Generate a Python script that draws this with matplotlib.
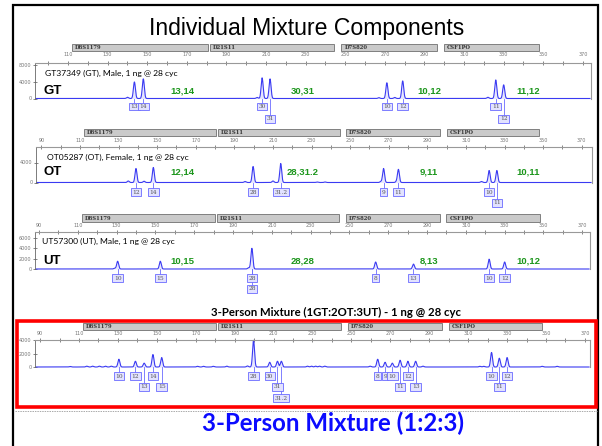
import numpy as np
import matplotlib.pyplot as plt
from matplotlib.patches import Rectangle
import matplotlib.transforms as mtransforms

W, H = 602, 446

# loci and size scale (bp)
loci = ['D8S1179', 'D21S11', 'D7S820', 'CSF1PO']
locus_start = [112, 181.5, 248, 300]
locus_end = [180.5, 244.5, 296.5, 348]
size_ticks = [90, 110, 130, 150, 170, 190, 210, 230, 250, 270, 290, 310, 330, 350, 370]
minor_ticks = [100, 120, 140, 160, 180, 200, 220, 240, 260, 280, 300, 320, 340, 360]

# GT sample
gt_peak_sizes = [143.5, 148, 208, 212, 271, 279, 326, 330]
gt_peak_heights = [4000, 4750, 5000, 4750, 3800, 4250, 4500, 3300]
gt_minor_sizes = [140, 205.5, 267, 275, 322]
gt_minor_heights = [300, 250, 200, 250, 300]
gt_labels = ['13', '14', '30', '31', '10', '12', '11', '12']
gt_label_sizes = [143.5, 148, 208, 212, 271, 279, 326, 330]
gt_label_rows = [0, 0, 0, 1, 0, 0, 0, 1]
gt_calls = ['13,14', '30,31', '10,12', '11,12']

# OT sample
ot_peak_sizes = [139, 148, 199.7, 214, 267.3, 275, 322, 326]
ot_peak_heights = [2800, 3000, 3200, 3800, 2800, 2600, 2400, 2400]
ot_minor_sizes = [135, 143.2, 195.5, 210, 232.8, 237, 265.9, 274, 318]
ot_minor_heights = [300, 250, 200, 300, 100, 100, 200, 200, 200]
ot_labels = ['12', '14', '28', '31.2', '9', '11', '10', '11']
ot_label_sizes = [139, 148, 199.7, 214, 267.3, 275, 322, 326]
ot_label_rows = [0, 0, 0, 0, 0, 0, 0, 1]
ot_calls = ['12,14', '28,31.2', '9,11', '10,11']

# UT sample
ut_peak_sizes = [130.5, 152.5, 199.7, 263.5, 283, 322, 330]
ut_peak_heights = [1500, 1500, 4000, 1350, 950, 1900, 1350]
ut_minor_sizes = [129, 198]
ut_minor_heights = [150, 250]
ut_labels = ['10', '15', '28', '28', '8', '13', '10', '12']
ut_label_sizes = [130.5, 152.5, 199.7, 199.7, 263.5, 283, 322, 330]
ut_label_rows = [0, 0, 0, 1, 0, 0, 0, 0]
ut_calls = ['10,15', '28,28', '8,13', '10,12']

# 3-person mixture
mix_peak_sizes = [130.5, 139, 143.5, 148, 152.5, 199.7, 208, 212, 214,
                  263.5, 267.3, 271, 275, 279, 283, 322, 326, 330]
mix_peak_heights = [1150, 850, 570, 1850, 1400, 3950, 700, 850, 850,
                    1150, 700, 570, 1000, 850, 850, 2150, 1300, 1400]
mix_minor_sizes = [105.4, 114, 117, 120.5, 123.6, 126.6, 170.9, 174, 179, 186,
                   196.6, 227.4, 229.5, 231.6, 233.6, 236.3, 259.6, 286.8,
                   316, 318, 348, 355.7]
mix_minor_heights = [80, 120, 120, 120, 120, 120, 100, 100, 100, 120,
                     150, 120, 120, 120, 120, 120, 120, 120,
                     100, 100, 100, 100]
mix_labels = ['10', '12', '13', '14', '15', '28', '30', '31', '31.2',
              '8', '9', '10', '11', '12', '13', '10', '11', '12']
mix_label_sizes = mix_peak_sizes
mix_label_rows = [0, 0, 1, 0, 1, 0, 0, 1, 2, 0, 0, 0, 1, 0, 1, 0, 1, 0]

trace_color = '#3a3af2'
box_fc = '#e2e2ff'
box_ec = '#6b6bff'
green = '#1c961c'


def fx(px):
    return px / W


def fy(py):
    return 1 - py / H


fig = plt.figure(figsize=(W / 100, H / 100), dpi=100)


def draw_panel(cfg, peak_sizes, peak_heights, minor_sizes, minor_heights,
               labels, label_sizes, label_rows):
    left, right, top, base = cfg['box']
    ax = fig.add_axes([fx(left), fy(base), (right - left) / W, (base - top) / H])
    lo, hi = cfg['xlim']
    ax.set_xlim(lo, hi)
    ax.set_ylim(0, cfg['ymax'])
    ax.patch.set_alpha(0)

    x = np.linspace(lo + 0.5, hi - 0.5, 5000)
    y = np.zeros_like(x)
    for s, h in zip(peak_sizes + minor_sizes, peak_heights + minor_heights):
        y += h * np.exp(-0.5 * ((x - s) / 0.5) ** 2)
    ax.fill_between(x, 0, y, color=trace_color, alpha=0.12, lw=0)
    ax.plot(x, y, color=trace_color, lw=0.8, clip_on=False)

    for side in ['top', 'right']:
        ax.spines[side].set_color('#999999')
        ax.spines[side].set_linewidth(0.8)
    ax.spines['left'].set_color('#666666')
    ax.spines['left'].set_linewidth(0.6)
    ax.spines['bottom'].set_visible(False)

    ax.xaxis.tick_top()
    ax.set_xticks([t for t in size_ticks if lo <= t <= hi])
    ax.set_xticks([t for t in minor_ticks if lo <= t <= hi], minor=True)
    ax.tick_params(axis='x', which='both', direction='inout', length=3,
                   width=0.5, color='#555555', labelsize=3.5,
                   labelcolor='#777777', pad=cfg['pad'])
    ax.set_yticks(cfg['yticks'])
    ax.tick_params(axis='y', direction='inout', length=3, width=0.5,
                   color='#555555', labelsize=3.5, labelcolor='#777777', pad=1)

    trans = mtransforms.blended_transform_factory(ax.transData, fig.transFigure)
    b0, b1 = cfg['bar']
    for name, s, e in zip(loci, locus_start, locus_end):
        ax.add_patch(Rectangle((s, fy(b1)), e - s, (b1 - b0) / H, transform=trans,
                               fc='#cacaca', ec='#707070', lw=0.6, clip_on=False))
        ax.text(s + 1.5, fy((b0 + b1) / 2), name, transform=trans, fontsize=3.8,
                fontweight='bold', family='DejaVu Serif', color='#333333',
                va='center', ha='left')

    for txt, s, r in zip(labels, label_sizes, label_rows):
        ry = cfg['rows'][r]
        ax.plot([s, s], [fy(base), fy(ry - 3.5)], transform=trans,
                color=box_ec, lw=0.6, clip_on=False)
        ax.text(s, fy(ry), txt, transform=trans, ha='center', va='center',
                fontsize=4.2, color='#555555', family='DejaVu Serif',
                bbox=dict(boxstyle='square,pad=0.25', fc=box_fc, ec=box_ec, lw=0.6))
    return ax


panels = [
    dict(box=(35, 591, 63, 98.5), xlim=(93.3, 374.1), ymax=8600,
         yticks=[0, 4000, 8000], pad=2.5, bar=(44, 51), rows=[106.5, 119]),
    dict(box=(36, 592, 146.5, 182.5), xlim=(87.2, 375.3), ymax=7200,
         yticks=[0, 4000], pad=1.2, bar=(129, 136), rows=[192, 203]),
    dict(box=(35, 590, 232, 269), xlim=(87.9, 374), ymax=7150,
         yticks=[0, 2000, 4000, 6000], pad=1.2, bar=(214, 222), rows=[278, 289]),
    dict(box=(35, 590, 340, 367), xlim=(87.4, 372.6), ymax=4000,
         yticks=[0, 2000, 4000], pad=1.2, bar=(323, 330), rows=[376, 387, 398]),
]

draw_panel(panels[0], gt_peak_sizes, gt_peak_heights, gt_minor_sizes, gt_minor_heights,
           gt_labels, gt_label_sizes, gt_label_rows)
draw_panel(panels[1], ot_peak_sizes, ot_peak_heights, ot_minor_sizes, ot_minor_heights,
           ot_labels, ot_label_sizes, ot_label_rows)
draw_panel(panels[2], ut_peak_sizes, ut_peak_heights, ut_minor_sizes, ut_minor_heights,
           ut_labels, ut_label_sizes, ut_label_rows)
draw_panel(panels[3], mix_peak_sizes, mix_peak_heights, mix_minor_sizes, mix_minor_heights,
           mix_labels, mix_label_sizes, mix_label_rows)

# sample annotations
sans = ['Lato', 'DejaVu Sans']
call_x = [182, 303, 429, 528]
for sample, sx, sy, tag, tx, ty, calls in [
        ('GT37349 (GT), Male, 1 ng @ 28 cyc', 45, 73, 'GT', 43, 91, gt_calls),
        ('OT05287 (OT), Female, 1 ng @ 28 cyc', 47, 157, 'OT', 43, 172, ot_calls),
        ('UT57300 (UT), Male, 1 ng @ 28 cyc', 42, 241, 'UT', 43, 261, ut_calls)]:
    fig.text(fx(sx), fy(sy), sample, fontsize=6.1, family=sans, va='center', ha='left')
    fig.text(fx(tx), fy(ty), tag, fontsize=9.5, fontweight='bold',
             family='Liberation Sans', va='center', ha='left')
    for c, cx in zip(calls, call_x):
        fig.text(fx(cx), fy(ty), c, fontsize=6.8, fontweight='bold', color=green,
                 family='Liberation Sans', va='center', ha='center')

fig.text(fx(307), fy(29), 'Individual Mixture Components', fontsize=16.6,
         family='Liberation Sans', ha='center', va='center')
fig.text(fx(336), fy(312), '3-Person Mixture (1GT:2OT:3UT) - 1 ng @ 28 cyc',
         fontsize=8.2, fontweight='bold', family=sans, ha='center', va='center')
fig.text(fx(333), fy(423), '3-Person Mixture (1:2:3)', fontsize=17.3,
         fontweight='bold', color='#0b0bff', family=sans, ha='center', va='center')

# slide frame, red highlight box and dotted separator
fig.add_artist(Rectangle((fx(13), fy(460)), fx(598 - 13), (460 - 5) / H,
                         transform=fig.transFigure, fill=False, ec='black', lw=1.6))
fig.add_artist(Rectangle((fx(16.5), fy(406.5)), fx(595.5 - 16.5), (406.5 - 320.5) / H,
                         transform=fig.transFigure, fill=False, ec='#ff0000', lw=2.6))
fig.add_artist(plt.Line2D([fx(15), fx(597)], [fy(411), fy(411)], transform=fig.transFigure,
                          color='#aaaaaa', lw=0.7, ls=(0, (1.5, 1))))

fig.savefig('out.png', dpi=100)
